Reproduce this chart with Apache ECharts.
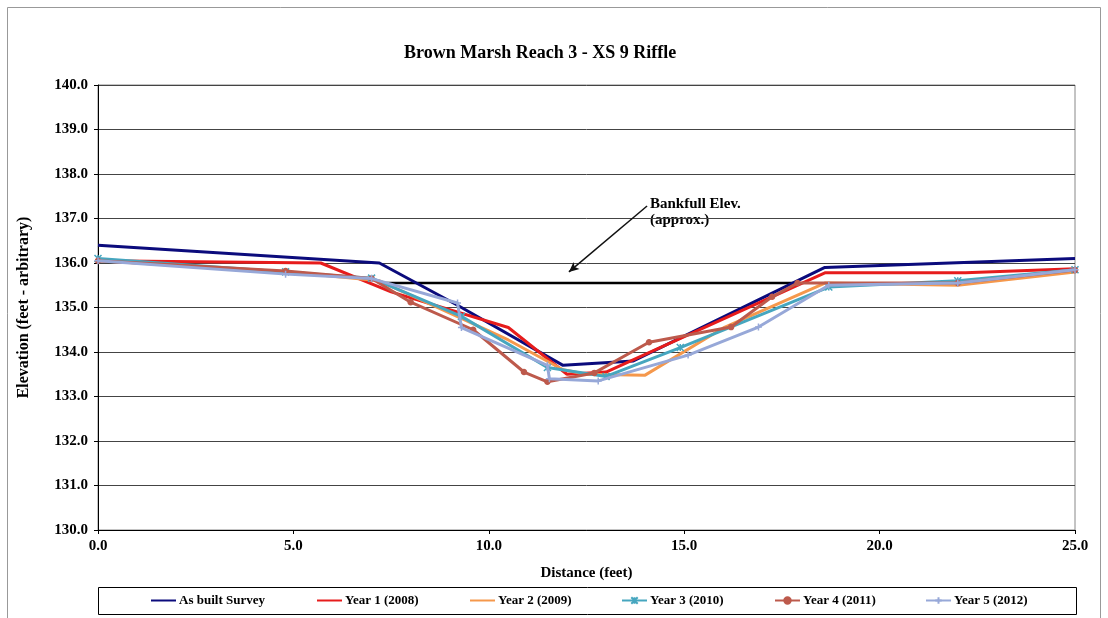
<!DOCTYPE html>
<html>
<head>
<meta charset="utf-8">
<script src="https://cdn.jsdelivr.net/npm/echarts@6/dist/echarts.min.js"></script>
<style>
  html, body { margin: 0; padding: 0; background: #fff; }
  #chart { width: 1108px; height: 618px; }
</style>
</head>
<body>
<div id="chart"></div>
<script>
// Cross-section survey: distance (ft) vs elevation (ft)
const asBuiltX    = [0, 7.2, 9.2, 11.9, 13.7, 18.6, 25];
const asBuiltElev = [136.4, 136.0, 135.05, 133.7, 133.8, 135.9, 136.1];

const year1X    = [0, 5.7, 7.5, 10.5, 12.0, 13.0, 18.6, 22.2, 25];
const year1Elev = [136.05, 136.0, 135.35, 134.55, 133.5, 133.55, 135.78, 135.78, 135.87];

const year2X    = [0, 4.9, 7.2, 10.5, 11.9, 12.5, 14.0, 16.0, 18.6, 22.0, 25];
const year2Elev = [136.05, 135.8, 135.6, 134.27, 133.6, 133.5, 133.48, 134.54, 135.55, 135.5, 135.8];

const year3X    = [0, 4.8, 7.0, 9.3, 11.5, 13.0, 14.9, 18.7, 22.0, 25];
const year3Elev = [136.1, 135.8, 135.66, 134.8, 133.65, 133.45, 134.1, 135.46, 135.6, 135.85];

const year4X    = [0, 4.8, 7.0, 8.0, 9.6, 10.9, 11.5, 12.7, 14.1, 16.2, 17.25, 17.9, 22.0, 25];
const year4Elev = [136.05, 135.82, 135.65, 135.12, 134.5, 133.55, 133.33, 133.53, 134.22, 134.56, 135.24, 135.55, 135.55, 135.84];

const year5X    = [0, 4.8, 7.0, 9.2, 9.3, 11.5, 11.55, 12.8, 15.1, 16.9, 18.7, 22.0, 25];
const year5Elev = [136.05, 135.75, 135.65, 135.1, 134.55, 133.7, 133.4, 133.35, 133.93, 134.56, 135.5, 135.55, 135.85];

const bankfullX    = [7.2, 17.9];
const bankfullElev = [135.55, 135.55];

const seriesNames = ['As built Survey', 'Year 1 (2008)', 'Year 2 (2009)', 'Year 3 (2010)', 'Year 4 (2011)', 'Year 5 (2012)'];
const xTicks = [0, 5, 10, 15, 20, 25];

const FONT = '"Liberation Serif", "DejaVu Serif", serif';
const zip = (xs, ys) => xs.map((x, i) => [x, ys[i]]);

const colors = ['#0b0b7c', '#e61c1c', '#f5984c', '#46a6bf', '#bd5a4c', '#97a8d8'];
const symbols = [
  'none',
  'none',
  'none',
  'path://M0,0L10,10M10,0L0,10M5,0L5,10',
  'circle',
  'path://M5,0L5,10M0,5L10,5'
];
const symbolSizes = [0, 0, 0, 7, 5, 7];
const xs = [asBuiltX, year1X, year2X, year3X, year4X, year5X];
const ys = [asBuiltElev, year1Elev, year2Elev, year3Elev, year4Elev, year5Elev];

const series = seriesNames.map((name, i) => ({
  name,
  type: 'line',
  data: zip(xs[i], ys[i]),
  symbol: symbols[i],
  symbolSize: symbolSizes[i],
  showSymbol: symbols[i] !== 'none',
  lineStyle: { color: colors[i], width: 3 },
  itemStyle: { color: colors[i], borderColor: colors[i], borderWidth: 1.5 },
  z: 3 + i,
  animation: false
}));

// Bankfull elevation line with its pointer arrow
series.push({
  name: 'Bankfull',
  type: 'line',
  data: zip(bankfullX, bankfullElev),
  symbol: 'none',
  lineStyle: { color: '#000', width: 2.5 },
  z: 2,
  animation: false,
  markLine: {
    silent: true,
    animation: false,
    symbolSize: [7, 10],
    label: { show: false },
    lineStyle: { color: '#111', width: 1.5, type: 'solid' },
    data: [[
      { coord: [14.05, 137.28], symbol: 'none' },
      { coord: [12.05, 135.8], symbol: 'arrow' }
    ]]
  }
});

const legendLefts = [150, 316, 469, 621, 774, 925];
const legends = seriesNames.map((name, i) => ({
  data: [name],
  left: legendLefts[i],
  top: 594,
  itemWidth: 25,
  itemHeight: 8,
  itemGap: 0,
  padding: 0,
  selectedMode: false,
  itemStyle: symbols[i] === 'none' ? { opacity: 0 } : {},
  textStyle: { fontFamily: FONT, fontWeight: 'bold', fontSize: 13, color: '#000', padding: [0, 0, 0, -2] }
}));

const chart = echarts.init(document.getElementById('chart'), null, { renderer: 'canvas' });
chart.setOption({
  backgroundColor: '#fff',
  animation: false,
  title: {
    text: 'Brown Marsh Reach 3 - XS 9 Riffle',
    left: 399,
    top: 39,
    textStyle: { fontFamily: FONT, fontWeight: 'bold', fontSize: 18, color: '#000' }
  },
  legend: legends,
  grid: {
    left: 98, right: 33, top: 85, bottom: 88,
    show: true, borderColor: '#888', borderWidth: 1, backgroundColor: 'transparent'
  },
  xAxis: {
    type: 'value',
    min: 0, max: 25, interval: 5,
    name: 'Distance (feet)',
    nameLocation: 'middle',
    nameGap: 36,
    nameTextStyle: { fontFamily: FONT, fontWeight: 'bold', fontSize: 15, color: '#000' },
    axisLine: { lineStyle: { color: '#000', width: 1 } },
    axisTick: { show: true, length: 4, lineStyle: { color: '#000' } },
    splitLine: { show: false },
    axisLabel: {
      fontFamily: FONT, fontWeight: 'bold', fontSize: 15, color: '#000', margin: 9,
      formatter: v => xTicks.includes(v) ? v.toFixed(1) : ''
    }
  },
  yAxis: {
    type: 'value',
    min: 130, max: 140, interval: 1,
    name: 'Elevation (feet - arbitrary)',
    nameLocation: 'middle',
    nameGap: 66,
    nameRotate: 90,
    nameTextStyle: { fontFamily: FONT, fontWeight: 'bold', fontSize: 16, color: '#000' },
    axisLine: { show: true, lineStyle: { color: '#000', width: 1 } },
    axisTick: { show: true, length: 4, lineStyle: { color: '#000' } },
    splitLine: { show: true, lineStyle: { color: '#444', width: 1 } },
    axisLabel: {
      fontFamily: FONT, fontWeight: 'bold', fontSize: 15, color: '#000', margin: 10,
      formatter: v => v.toFixed(1)
    }
  },
  graphic: [
    {
      type: 'rect', silent: true, z: -1,
      shape: { x: 7.5, y: 7.5, width: 1093, height: 640 },
      style: { fill: 'none', stroke: '#999', lineWidth: 1 }
    },
    {
      type: 'rect', silent: true,
      shape: { x: 98.5, y: 587.5, width: 978, height: 27 },
      style: { fill: 'none', stroke: '#000', lineWidth: 1 }
    },
    {
      type: 'text', silent: true, left: 650, top: 196,
      style: {
        text: 'Bankfull Elev.\n(approx.)',
        font: 'bold 15px ' + FONT, fill: '#000', lineHeight: 16
      }
    }
  ],
  series
});
</script>
</body>
</html>
